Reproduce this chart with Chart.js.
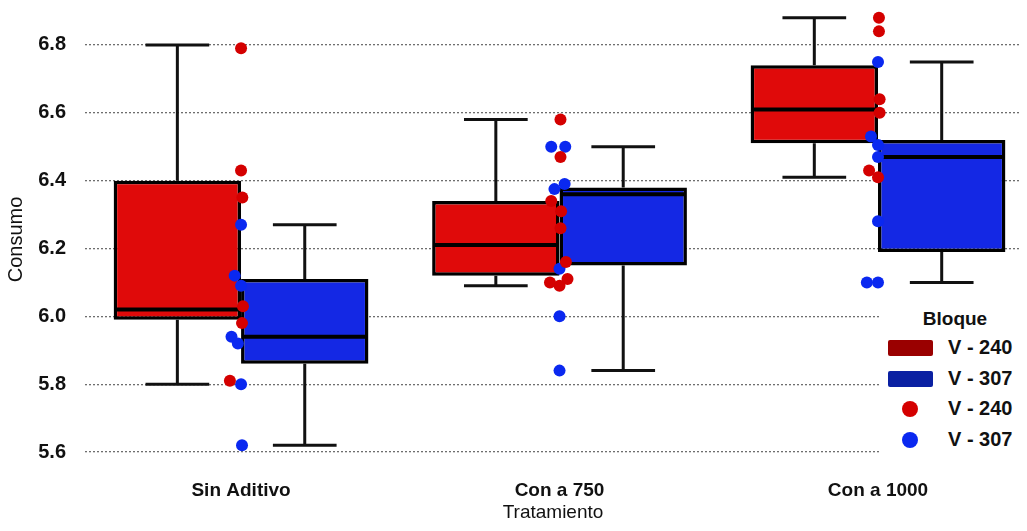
<!DOCTYPE html>
<html>
<head>
<meta charset="utf-8">
<script src="https://cdn.jsdelivr.net/npm/chart.js@4.4.1/dist/chart.umd.min.js"></script>
<style>
  body { margin: 0; background: #fff; font-family: "Liberation Sans", Arial, sans-serif; }
  #wrap { position: relative; width: 1027px; height: 531px; }
  #legend {
    position: absolute; left: 881px; top: 292px; width: 146px; height: 168px;
    background: #fff; color: #111;
  }
  #legend .title { position: absolute; left: 0; width: 148px; top: 16px; text-align: center; font-weight: bold; font-size: 19px; }
  #legend .row { position: absolute; left: 0; height: 30px; width: 146px; }
  #legend .sw { position: absolute; left: 7px; top: 7px; width: 45px; height: 16px; border-radius: 2px; }
  #legend .dot { position: absolute; left: 21px; top: 7px; width: 16px; height: 16px; border-radius: 50%; }
  #legend .lbl { position: absolute; left: 67px; top: 3px; font-size: 20px; font-weight: bold; }
</style>
</head>
<body>
<div id="wrap">
  <canvas id="boxChart"></canvas>
  <div id="legend"></div>
</div>
<script>
const categories = ['Sin Aditivo', 'Con a 750', 'Con a 1000'];
const tickValues = [5.6, 5.8, 6.0, 6.2, 6.4, 6.6, 6.8];

// box stats per tratamiento, bloque V - 240
const v240Min = [5.80, 6.09, 6.41];
const v240Q1 = [5.99, 6.12, 6.51];
const v240Median = [6.02, 6.21, 6.61];
const v240Q3 = [6.40, 6.34, 6.74];
const v240Max = [6.80, 6.58, 6.88];

// box stats, bloque V - 307
const v307Min = [5.62, 5.84, 6.10];
const v307Q1 = [5.86, 6.15, 6.19];
const v307Median = [5.94, 6.36, 6.47];
const v307Q3 = [6.11, 6.38, 6.52];
const v307Max = [6.27, 6.50, 6.75];

// raw observations and their horizontal jitter (x units)
const v240Points = [
    [6.79, 6.43, 6.35, 6.03, 5.98, 5.81],
    [6.58, 6.47, 6.34, 6.31, 6.26, 6.16, 6.11, 6.10, 6.09],
    [6.88, 6.84, 6.64, 6.60, 6.43, 6.41]
];
const v240Jitter = [
    [0.0, 0.0, 0.004, 0.006, 0.003, -0.035],
    [0.003, 0.003, -0.026, 0.005, 0.003, 0.02, 0.025, -0.03, 0.0],
    [0.003, 0.003, 0.005, 0.005, -0.028, 0.0]
];
const v307Points = [
    [6.27, 6.12, 6.09, 5.94, 5.92, 5.80, 5.62],
    [6.50, 6.50, 6.39, 6.375, 6.14, 6.00, 5.84],
    [6.75, 6.53, 6.505, 6.47, 6.28, 6.10, 6.10]
];
const v307Jitter = [
    [0.0, -0.02, 0.0, -0.03, -0.01, 0.0, 0.003],
    [-0.026, 0.018, 0.016, -0.016, 0.0, 0.0, 0.0],
    [0.0, -0.022, 0.0, 0.0, 0.0, -0.035, 0.0]
];

const boxRed = '#e00a0a';
const boxBlue = '#1428e4';
const dotRed = '#d40000';
const dotBlue = '#0a28f0';

function boxData(q1, q3) {
    return q1.map((v, i) => ({ x: i + 1, y: [v, q3[i]] }));
}

function whiskerData(mins, q1, q3, maxs, shift) {
    const pts = [];
    mins.forEach((mn, i) => {
        const wx = i + 1 + shift;
        pts.push({ x: wx, y: q3[i] }, { x: wx, y: maxs[i] }, { x: wx, y: null });
        pts.push({ x: wx - 0.1, y: maxs[i] }, { x: wx + 0.1, y: maxs[i] }, { x: wx, y: null });
        pts.push({ x: wx, y: q1[i] }, { x: wx, y: mn }, { x: wx, y: null });
        pts.push({ x: wx - 0.1, y: mn }, { x: wx + 0.1, y: mn }, { x: wx, y: null });
    });
    return pts;
}

function medianData(meds, from, to) {
    const pts = [];
    meds.forEach((m, i) => {
        pts.push({ x: i + 1 + from, y: m }, { x: i + 1 + to, y: m }, { x: i + 1, y: null });
    });
    return pts;
}

function pointData(values, jitter) {
    const pts = [];
    values.forEach((arr, i) => {
        arr.forEach((v, j) => pts.push({ x: i + 1 + jitter[i][j], y: v }));
    });
    return pts;
}

const ctx = document.getElementById('boxChart').getContext('2d');
new Chart(ctx, {
    type: 'bar',
    data: {
        datasets: [
            {
                label: 'V - 240', data: boxData(v240Q1, v240Q3), backgroundColor: boxRed,
                borderColor: '#000', borderWidth: 3.5, borderSkipped: false, order: 3
            },
            {
                label: 'V - 307', data: boxData(v307Q1, v307Q3), backgroundColor: boxBlue,
                borderColor: '#000', borderWidth: 3.5, borderSkipped: false, order: 3
            },
            {
                type: 'line', data: whiskerData(v240Min, v240Q1, v240Q3, v240Max, -0.2),
                borderColor: '#111', borderWidth: 3, pointRadius: 0, spanGaps: false, order: 2
            },
            {
                type: 'line', data: whiskerData(v307Min, v307Q1, v307Q3, v307Max, 0.2),
                borderColor: '#111', borderWidth: 3, pointRadius: 0, spanGaps: false, order: 2
            },
            {
                type: 'line', data: medianData(v240Median, -0.395, -0.005),
                borderColor: '#000', borderWidth: 4, pointRadius: 0, spanGaps: false, order: 1
            },
            {
                type: 'line', data: medianData(v307Median, 0.005, 0.395),
                borderColor: '#000', borderWidth: 4, pointRadius: 0, spanGaps: false, order: 1
            },
            {
                type: 'scatter', data: pointData(v240Points, v240Jitter),
                backgroundColor: dotRed, borderWidth: 0, pointRadius: 6, order: 0
            },
            {
                type: 'scatter', data: pointData(v307Points, v307Jitter),
                backgroundColor: dotBlue, borderWidth: 0, pointRadius: 6, order: 0
            }
        ]
    },
    options: {
        responsive: true,
        maintainAspectRatio: false,
        animation: false,
        categoryPercentage: 0.8,
        barPercentage: 1.0,
        clip: false,
        layout: { padding: { top: 10, right: 0, left: 0, bottom: 0 } },
        plugins: { legend: { display: false }, tooltip: { enabled: false } },
        scales: {
            x: {
                type: 'linear',
                offset: false,
                min: 0.51,
                max: 3.449,
                grid: { display: false },
                border: { display: false },
                afterBuildTicks: (scale) => { scale.ticks = categories.map((c, i) => ({ value: i + 1 })); },
                afterFit: (scale) => { scale.height = 62; },
                ticks: {
                    padding: 2,
                    color: '#111',
                    font: { family: 'Liberation Sans', size: 19, weight: 'bold' },
                    callback: (v) => categories[Math.round(v) - 1]
                },
                title: {
                    display: true, text: 'Tratamiento', color: '#111',
                    font: { family: 'Liberation Sans', size: 19 },
                    padding: { top: 0, bottom: 7 }
                }
            },
            y: {
                min: 5.55,
                max: 6.903,
                border: { display: false, dash: [2, 2] },
                afterBuildTicks: (scale) => { scale.ticks = tickValues.map(v => ({ value: v })); },
                afterFit: (scale) => {
                    scale.width = 85;
                    scale.paddingTop = 0;
                    scale.paddingBottom = 0;
                },
                grid: {
                    drawTicks: false, color: '#6e6e6e', lineWidth: 1.3
                },
                ticks: {
                    padding: 19,
                    color: '#111',
                    font: { family: 'Liberation Sans', size: 20, weight: 'bold' },
                    callback: (v) => v.toFixed(1)
                },
                title: {
                    display: true, text: 'Consumo', color: '#111',
                    font: { family: 'Liberation Sans', size: 20 },
                    padding: { top: 4, bottom: 4 }
                }
            }
        }
    }
});

// legend
const legendItems = [
    { kind: 'sw', color: '#9a0000', text: 'V - 240' },
    { kind: 'sw', color: '#0a20a2', text: 'V - 307' },
    { kind: 'dot', color: dotRed, text: 'V - 240' },
    { kind: 'dot', color: dotBlue, text: 'V - 307' }
];
const legend = document.getElementById('legend');
legend.innerHTML = '<div class="title">Bloque</div>' + legendItems.map((it, i) => `
    <div class="row" style="top:${41 + i * 30.5}px">
        <div class="${it.kind}" style="background:${it.color}"></div>
        <div class="lbl">${it.text}</div>
    </div>`).join('');
</script>
</body>
</html>
